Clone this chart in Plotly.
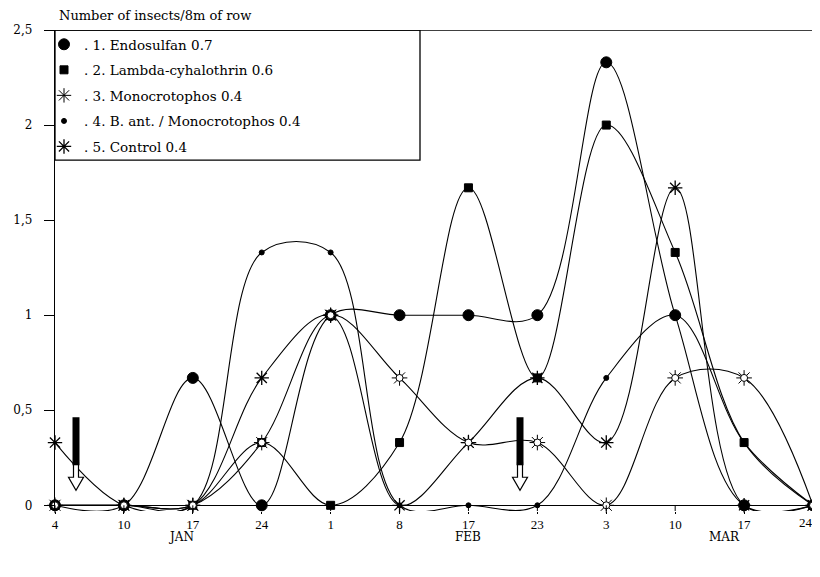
import plotly.graph_objects as go

# ---------------- data ----------------
day_labels = ["4", "10", "17", "24", "1", "8", "17", "23", "3", "10", "17", "24"]
months = ["JAN", "FEB", "MAR"]
endosulfan = [0, 0, 0.67, 0, 1, 1, 1, 1, 2.33, 1, 0, 0]
lambda_cyh = [0, 0, 0, 0.33, 0, 0.33, 1.67, 0.67, 2.0, 1.33, 0.33, 0]
monocrotophos = [0, 0, 0, 0.33, 1, 0.67, 0.33, 0.33, 0, 0.67, 0.67, 0]
bant_mono = [0, 0, 0, 1.33, 1.33, 0, 0, 0, 0.67, 1, 0.33, 0]
control = [0.33, 0, 0, 0.67, 1, 0, 0.33, 0.67, 0.33, 1.67, 0, 0]
series_names = [
    "1. Endosulfan 0.7",
    "2. Lambda-cyhalothrin 0.6",
    "3. Monocrotophos 0.4",
    "4. B. ant. / Monocrotophos 0.4",
    "5. Control 0.4",
]
y_ticks = [0, 0.5, 1, 1.5, 2, 2.5]
y_tick_text = ["0", "0,5", "1", "1,5", "2", "2,5"]

x = list(range(len(day_labels)))
FONT = "DejaVu Serif"
XFONT = "Liberation Serif"
SMOOTH = 1.0

# the last label sits on the right edge: it is drawn right-aligned as an annotation
tick_text = day_labels[:-1] + [""]

# page offset (body margin of the html page)
OFF = 8
W, H = 820 - OFF, 577 - 2 * OFF
PLOT_L, PLOT_R, PLOT_T, PLOT_B = 55, 813, 30, 510.7   # page pixels
PH = PLOT_B - PLOT_T

fig = go.Figure()

def line_trace(y, symbol, size, lw=1.0, fill="black"):
    return go.Scatter(
        x=x, y=y, mode="lines+markers",
        line=dict(color="black", width=1.1, shape="spline", smoothing=SMOOTH),
        marker=dict(symbol=symbol, size=size, color=fill,
                    line=dict(color="black", width=lw)),
        showlegend=False, cliponaxis=False, hoverinfo="skip",
    )

fig.add_trace(line_trace(endosulfan, "circle", 11))
fig.add_trace(line_trace(bant_mono, "circle", 5))
fig.add_trace(line_trace(lambda_cyh, "square", 8))
fig.add_trace(line_trace(control, "asterisk-open", 12, lw=1.3))
fig.add_trace(line_trace(monocrotophos, "asterisk-open", 13, lw=1.0))
fig.add_trace(go.Scatter(
    x=x, y=monocrotophos, mode="markers",
    marker=dict(symbol="circle", size=7, color="white",
                line=dict(color="black", width=1)),
    showlegend=False, cliponaxis=False, hoverinfo="skip"))

# ---- legend (marker-only entries) ----
leg_specs = [
    ("circle", 11, "black", 1.0),
    ("square", 8, "black", 1.0),
    ("asterisk-open", 12, "black", 1.0),
    ("circle", 5, "black", 1.0),
    ("asterisk-open", 12, "black", 1.3),
]
for i, (name, (sym, sz, col, lw)) in enumerate(zip(series_names, leg_specs)):
    fig.add_trace(go.Scatter(
        x=[None], y=[None], mode="markers", name=". " + name,
        legendgroup=f"g{i}",
        marker=dict(symbol=sym, size=sz, color=col,
                    line=dict(color="black", width=lw)),
    ))

# ---- pixel helpers for decorations (page pixels -> data / paper) ----
PXX = (PLOT_R - PLOT_L) / 11
PXY = 190.0
Y0 = 505

def dx(px):
    return (px - PLOT_L) / PXX

def dy(py):
    return (Y0 - py) / PXY

def py_paper(py):
    return (PLOT_B - py) / PH

def px_paper(px):
    return (px - PLOT_L) / (PLOT_R - PLOT_L)

shapes = []
# frame top and right
shapes.append(dict(type="line", xref="paper", yref="y", x0=0, x1=1, y0=2.5, y1=2.5,
                   line=dict(color="black", width=1.3)))
shapes.append(dict(type="line", xref="x", yref="y", x0=11, x1=11, y0=-0.03, y1=2.5,
                   line=dict(color="black", width=1.3)))
# legend box
shapes.append(dict(type="rect", xref="x", yref="y", x0=0, x1=dx(420), y0=dy(160), y1=2.5,
                   fillcolor="white", line=dict(color="black", width=1.3), layer="below"))
# upper part of the x tick marks (from the zero line down to the plot edge)
for xi in x:
    shapes.append(dict(type="line", xref="x", yref="y", x0=xi, x1=xi, y0=0, y1=-0.03,
                       line=dict(color="black", width=1)))

# application arrows
for cx in [76, 520]:
    pts = [(cx - 2.5, 462), (cx - 2.5, 477), (cx - 7.5, 477), (cx, 490),
           (cx + 7.5, 477), (cx + 2.5, 477), (cx + 2.5, 462)]
    path = "M " + " L ".join(f"{dx(a):.4f},{dy(b):.4f}" for a, b in pts) + " Z"
    shapes.append(dict(type="path", xref="x", yref="y", path=path,
                       fillcolor="white", line=dict(color="black", width=1.2)))
    shapes.append(dict(type="rect", xref="x", yref="y", x0=dx(cx - 3.5), x1=dx(cx + 3.5),
                       y0=dy(465), y1=dy(417), fillcolor="black",
                       line=dict(color="black", width=0)))

annotations = [
    dict(text="Number of insects/8m of row", xref="paper", yref="paper",
         x=px_paper(57), y=py_paper(16), xanchor="left", yanchor="middle",
         showarrow=False, font=dict(family=FONT, size=13, color="black")),
    dict(text=day_labels[-1], xref="x", yref="paper", x=x[-1], xshift=2,
         y=py_paper(522), xanchor="right", yanchor="middle",
         showarrow=False, font=dict(family=XFONT, size=13, color="black")),
]
for m, px in zip(months, [181, 468, 724]):
    annotations.append(dict(text=m, xref="x", yref="paper", x=dx(px),
                            y=py_paper(537), xanchor="center", yanchor="middle",
                            showarrow=False, font=dict(family=FONT, size=12, color="black")))

fig.update_layout(
    width=W, height=H,
    margin=dict(l=PLOT_L - OFF, r=(820 - PLOT_R), t=PLOT_T - OFF, b=H - (PLOT_B - OFF),
                autoexpand=False),
    paper_bgcolor="white", plot_bgcolor="white",
    separators=", ",
    font=dict(family=FONT, size=12, color="black"),
    shapes=shapes, annotations=annotations,
    legend=dict(x=px_paper(44), y=py_paper(29), xanchor="left", yanchor="top",
                bgcolor="rgba(0,0,0,0)", borderwidth=0,
                font=dict(family=FONT, size=13.5, color="black"),
                tracegroupgap=5, itemwidth=30),
)
fig.update_xaxes(range=[0, 11], tickvals=x, ticktext=tick_text,
                 showgrid=False, zeroline=False, showline=False,
                 ticks="outside", ticklen=2, tickcolor="black",
                 ticklabelstandoff=-1, automargin=False,
                 tickfont=dict(family=XFONT, size=13, color="black"))
fig.update_yaxes(range=[-0.03, 2.5], tickvals=y_ticks, ticktext=y_tick_text,
                 showgrid=False, zeroline=True, zerolinecolor="black", zerolinewidth=1.3,
                 showline=True, linecolor="black", linewidth=1.3,
                 ticks="outside", ticklen=10, tickcolor="black",
                 ticklabelstandoff=9, automargin=False,
                 tickfont=dict(family=FONT, size=12, color="black"))

fig.write_html("out.html")
